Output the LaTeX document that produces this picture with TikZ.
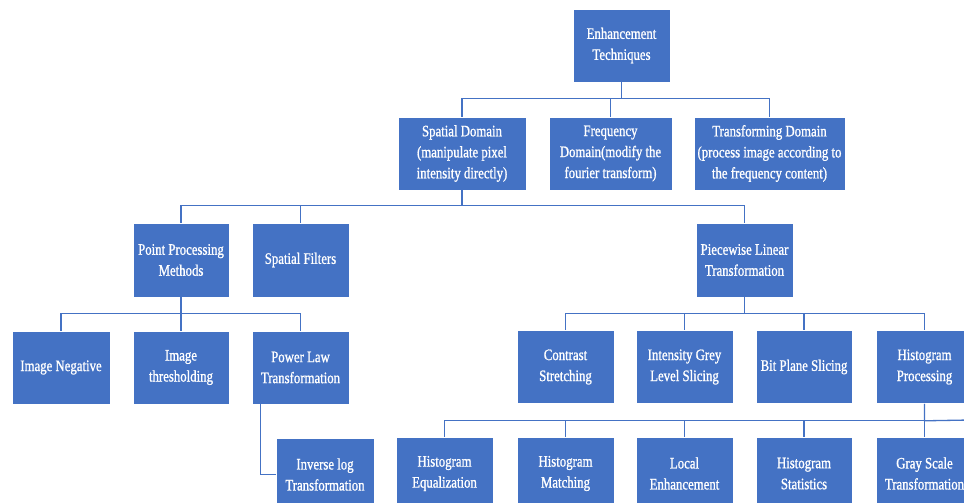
\documentclass[tikz,border=0pt]{standalone}
\usepackage{fontspec}
\setmainfont[FakeStretch=0.8,FakeBold=1]{Liberation Serif}
\definecolor{boxblue}{HTML}{4472C4}
\tikzset{
  tbox/.style={rectangle, fill=boxblue, draw=white, line width=0.6pt, text=white,
    align=center, inner sep=0pt, minimum height=73pt,
    font=\fontsize{16}{21}\selectfont},
  conn/.style={draw=boxblue, line width=1.3pt}
}
\begin{document}
\begin{tikzpicture}[x=1pt,y=-1pt]
\useasboundingbox (0,0) rectangle (964,503);
\fill[white] (0,0) rectangle (964,503);
\clip (0,0) rectangle (964,503);
% level 1
\node[tbox, minimum width=97pt] (top) at (621.5,45.5) {Enhancement\\Techniques};
% level 2
\node[tbox, minimum width=128pt] (spatial) at (462,153.5) {Spatial Domain\\(manipulate pixel\\intensity directly)};
\node[tbox, minimum width=123pt] (freq) at (610.5,153.5) {Frequency\\Domain(modify the\\fourier transform)};
\node[tbox, minimum width=151pt] (trans) at (769.5,153.5) {Transforming Domain\\(process image according to\\the frequency content)};
% level 3
\node[tbox, minimum width=96pt, minimum height=74pt] (ppm) at (181,260) {Point Processing\\Methods};
\node[tbox, minimum width=97pt, minimum height=74pt] (sf) at (300.5,260) {Spatial Filters};
\node[tbox, minimum width=97pt, minimum height=74pt] (pw) at (744.5,260) {Piecewise Linear\\Transformation};
% level 4 left
\node[tbox, minimum width=98pt] (neg) at (61,367.5) {Image Negative};
\node[tbox, minimum width=96pt] (thr) at (181,367.5) {Image\\thresholding};
\node[tbox, minimum width=97pt] (pl) at (300.5,367.5) {Power Law\\Transformation};
\node[tbox, minimum width=98pt] (inv) at (325,474.5) {Inverse log\\Transformation};
% level 4 right
\node[tbox, minimum width=97pt] (cs) at (565.5,367) {Contrast\\Stretching};
\node[tbox, minimum width=97pt] (igl) at (684.5,367) {Intensity Grey\\Level Slicing};
\node[tbox, minimum width=96pt] (bps) at (804,367) {Bit Plane Slicing};
\node[tbox, minimum width=97pt] (hp) at (924.5,367) {Histogram\\Processing};
% level 5
\node[tbox, minimum width=97pt] (he) at (444.5,473.5) {Histogram\\Equalization};
\node[tbox, minimum width=97pt] (hm) at (565.5,473.5) {Histogram\\Matching};
\node[tbox, minimum width=97pt] (le) at (684.5,473.5) {Local\\Enhancement};
\node[tbox, minimum width=96pt] (hs) at (804,473.5) {Histogram\\Statistics};
\node[tbox, minimum width=97pt] (gs) at (924.5,473.5) {Gray Scale\\Transformation};
\coordinate (edgeR) at (970,420);
% connectors
\foreach \c in {spatial,freq,trans}
  \draw[conn] (top.south) -- ++(0,16) -| (\c.north);
\foreach \c in {ppm,sf,pw}
  \draw[conn] (spatial.south) -- ++(0,15) -| (\c.north);
\foreach \c in {neg,thr,pl}
  \draw[conn] (ppm.south) -- ++(0,16) -| (\c.north);
\foreach \c in {cs,igl,bps,hp}
  \draw[conn] (pw.south) -- ++(0,16) -| (\c.north);
\foreach \c in {he,hm,le,hs,gs}
  \draw[conn] (hp.south) -- ++(0,17) -| (\c.north);
\draw[conn] (hp.south) -- ++(0,17) -- (edgeR);
\draw[conn] ([xshift=9pt]pl.south west) |- (inv.west);
\end{tikzpicture}
\end{document}
